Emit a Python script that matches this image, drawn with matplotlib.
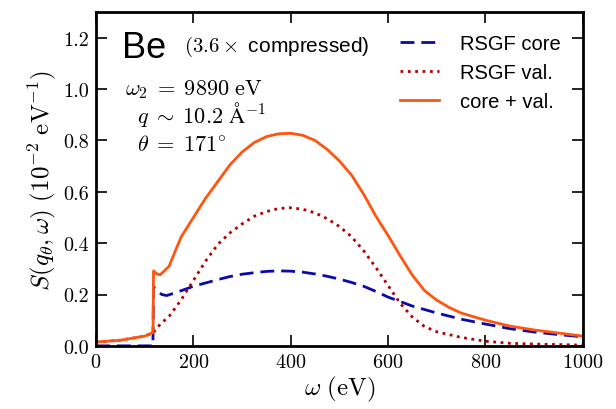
import matplotlib
matplotlib.use("Agg")
import matplotlib.pyplot as plt
import numpy as np

plt.rcParams['font.family'] = ['serif']
plt.rcParams['font.serif'] = ['cmr10']
plt.rcParams['mathtext.fontset'] = 'cm'
plt.rcParams['axes.formatter.use_mathtext'] = True

# values (omega in eV, S in 1e-2/eV)
core_w = [0, 116.9, 117, 118, 125, 135, 145, 160, 175, 200, 225, 250, 275, 300, 325, 350, 375,
          400, 425, 450, 475, 500, 525, 550, 575, 600, 650, 700, 750, 800, 850, 900, 950, 1000]
core_s = [0, 0, 0.05, 0.23, 0.215, 0.2, 0.196, 0.205, 0.215, 0.232, 0.245, 0.258, 0.27, 0.279,
          0.285, 0.29, 0.292, 0.291, 0.287, 0.28, 0.271, 0.26, 0.247, 0.232, 0.212, 0.19,
          0.155, 0.128, 0.104, 0.085, 0.067, 0.054, 0.044, 0.035]

val_w = [0, 50, 100, 117, 125, 135, 150, 175, 200, 225, 250, 275, 300, 325, 350, 375, 400,
         425, 450, 475, 500, 525, 550, 575, 600, 625, 650, 675, 700, 750, 800, 850, 900, 950, 1000]
val_s = [0.015, 0.022, 0.038, 0.05, 0.07, 0.09, 0.115, 0.18, 0.255, 0.33, 0.395, 0.44, 0.475,
         0.505, 0.523, 0.535, 0.538, 0.532, 0.518, 0.495, 0.465, 0.425, 0.37, 0.305, 0.235,
         0.165, 0.112, 0.075, 0.055, 0.033, 0.018, 0.01, 0.007, 0.005, 0.003]

tot_w = [0, 50, 100, 117, 118, 125, 132, 150, 165, 175, 200, 225, 250, 275, 300, 325, 350, 375,
         400, 425, 450, 475, 500, 525, 550, 575, 600, 625, 650, 675, 700, 725, 750, 800, 850,
         900, 950, 1000]
tot_s = [0.015, 0.022, 0.038, 0.052, 0.292, 0.28, 0.277, 0.31, 0.38, 0.425, 0.5, 0.575, 0.64,
         0.705, 0.755, 0.792, 0.815, 0.826, 0.828, 0.82, 0.8, 0.765, 0.72, 0.665, 0.59, 0.505,
         0.43, 0.35, 0.275, 0.215, 0.178, 0.15, 0.128, 0.1, 0.077, 0.062, 0.05, 0.038]

fig = plt.figure(figsize=(6.16, 4.10), dpi=100)
ax = fig.add_axes([0.156, 0.154, 0.79, 0.814])

sans = ['Liberation Sans', 'DejaVu Sans']
ax.plot(core_w, core_s, ls='--', color='#0a0aaa', lw=2, dashes=(5, 2.5), label='RSGF core')
ax.plot(val_w, val_s, ls=':', color='#b00000', lw=2, label='RSGF val.')
ax.plot(tot_w, tot_s, ls='-', color='#ff5511', lw=2, label='core + val.')

ax.set_xlim(0, 1000)
ax.set_ylim(0, 1.3)
ax.set_xticks([0, 200, 400, 600, 800, 1000])
ax.set_yticks([0.0, 0.2, 0.4, 0.6, 0.8, 1.0, 1.2])
ax.set_yticklabels(['0.0', '0.2', '0.4', '0.6', '0.8', '1.0', '1.2'])
ax.tick_params(direction='in', top=True, right=True, length=8, width=1.2, labelsize=14.5, pad=5)
for s in ax.spines.values():
    s.set_linewidth(2)

ax.set_xlabel(r'$\omega\ \mathrm{(eV)}$', fontsize=18, labelpad=2)
ax.set_ylabel(r'$S(q_\theta,\omega)\ (10^{-2}\ \mathrm{eV}^{-1})$', fontsize=18, labelpad=4)

ax.text(0.053, 0.865, 'Be', transform=ax.transAxes, fontsize=26, family=sans)
ax.text(0.181, 0.883, r'$(3.6\times$ compressed)', transform=ax.transAxes, fontsize=15, family=sans)
ax.text(0.06, 0.754, r'$\omega_2\;=\;9890\ \mathrm{eV}$', transform=ax.transAxes, fontsize=16)
ax.text(0.084, 0.671, r'$q\;\sim\;10.2\ \mathrm{\AA}^{-1}$', transform=ax.transAxes, fontsize=16)
ax.text(0.084, 0.587, r'$\theta\;=\;171^{\circ}$', transform=ax.transAxes, fontsize=16)

leg = ax.legend(loc='upper right', frameon=False, prop={'family': sans, 'size': 14.5},
                handlelength=1.9, handletextpad=1.05, labelspacing=0.5,
                borderaxespad=0.7)

fig.savefig('out.png', dpi=100)
